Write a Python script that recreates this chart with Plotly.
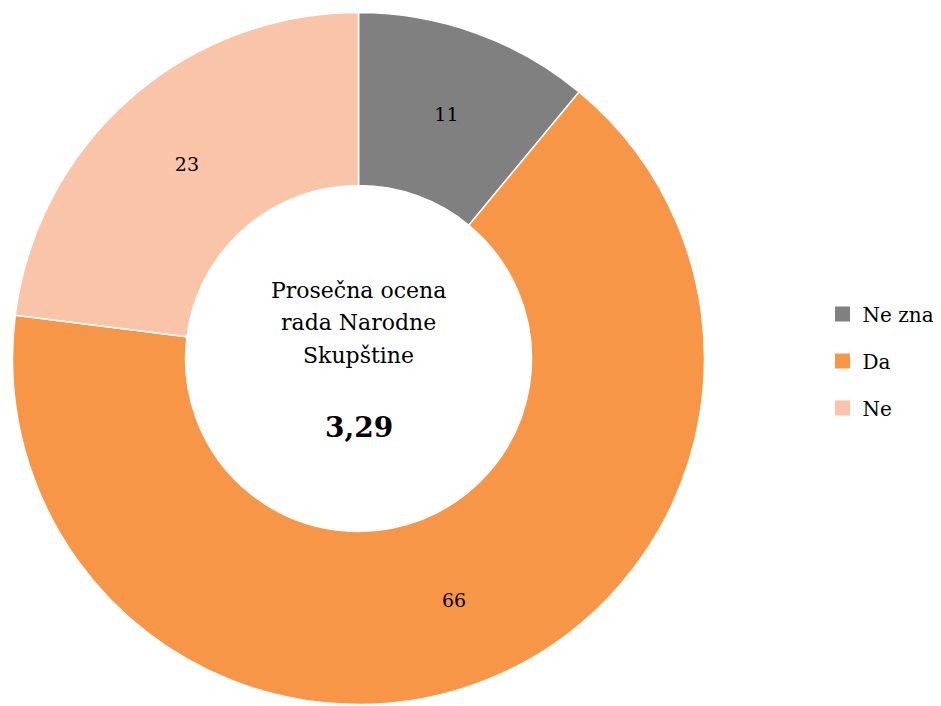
import plotly.graph_objects as go

labels = ["Ne zna", "Da", "Ne"]
values = [11, 66, 23]
colors = ["#808080", "#F79646", "#FAC4A8"]
center_lines = ["Prosečna ocena", "rada Narodne", "Skupštine"]
center_value = "3,29"

font_family = "DejaVu Serif"
H = 706
W = 941

fig = go.Figure()
fig.add_trace(go.Pie(
    labels=labels,
    values=values,
    hole=0.5,
    sort=False,
    direction="clockwise",
    rotation=0,
    marker=dict(colors=colors, line=dict(color="white", width=1.5)),
    textinfo="value",
    textposition="inside",
    insidetextorientation="horizontal",
    textfont=dict(family=font_family, size=19, color="black"),
    domain=dict(x=[0.0048, 0.7402], y=[0.0135, 0.9936]),
    showlegend=False,
))

# legend entries as separate groups so the gap between them can be set
for lab, col in zip(labels, colors):
    fig.add_trace(go.Scatter(
        x=[None], y=[None],
        mode="markers",
        marker=dict(symbol="square", size=15, color=col),
        name=lab,
        legendgroup=lab,
        showlegend=True,
    ))

# text in the hole, one line per annotation
for i, line in enumerate(center_lines):
    fig.add_annotation(
        text=line, x=350.5 / W, y=1 - (282 + 32.5 * i) / H,
        xref="paper", yref="paper", showarrow=False,
        font=dict(family=font_family, size=22, color="black"),
    )
fig.add_annotation(
    text="<b>" + center_value + "</b>", x=350.5 / W, y=1 - 420 / H,
    xref="paper", yref="paper", showarrow=False,
    font=dict(family=font_family, size=28, color="black"),
)

fig.update_layout(
    width=W, height=H,
    margin=dict(l=0, r=0, t=0, b=0),
    paper_bgcolor="white", plot_bgcolor="white",
    xaxis=dict(visible=False), yaxis=dict(visible=False),
    legend=dict(
        x=0.8656, y=0.5, xanchor="left", yanchor="middle",
        font=dict(family=font_family, size=20, color="black"),
        tracegroupgap=18, itemwidth=30,
    ),
)

fig.write_html("out.html")
